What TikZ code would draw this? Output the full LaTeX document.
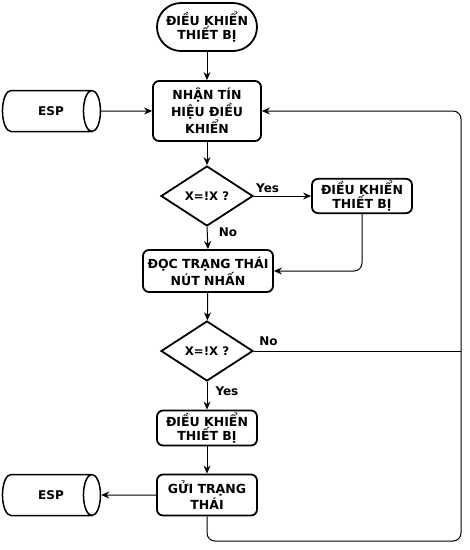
\documentclass[tikz,border=0pt]{standalone}
\usepackage{fontspec}
\setmainfont{DejaVu Sans}
\usetikzlibrary{arrows.meta, shapes.geometric}

\tikzset{
    base/.style={draw=black, line width=1.8pt, font=\bfseries\fontsize{12.5}{14}\selectfont, align=center, inner sep=2pt},
    term/.style={base, rounded corners=24pt, minimum width=100pt, minimum height=48pt},
    proc/.style={base, rounded corners=6pt, minimum width=100pt},
    dec/.style={base, diamond, aspect=1.5, inner sep=1pt, minimum width=92pt, minimum height=60pt, font=\bfseries\fontsize{11.8}{14}\selectfont},
    store/.style={base, line width=1.5pt, cylinder, aspect=1.3, minimum width=41pt, minimum height=98pt, font=\bfseries\fontsize{12}{14}\selectfont},
    line/.style={draw=black, line width=1pt, -{Stealth[length=8pt, width=7pt]}},
    lbl/.style={font=\bfseries\fontsize{12}{14}\selectfont, inner sep=1pt}
}

\begin{document}
\begin{tikzpicture}[x=1pt, y=-1pt]
        \useasboundingbox (0,0) rectangle (470,550);

        % main column
        \node[term] (start) at (207,27) {ĐIỀU KHIỂN\\THIẾT BỊ};
        \node[proc, minimum width=108pt, minimum height=60pt] (recv) at (207,111) {NHẬN TÍN\\HIỆU ĐIỀU\\KHIỂN};
        \node[dec] (dec1) at (207,196) {X=!X ?};
        \node[proc, minimum height=34pt] (ctl1) at (362,196) {ĐIỀU KHIỂN\\THIẾT BỊ};
        \node[proc, minimum width=130pt, minimum height=42pt] (read) at (208,271) {ĐỌC TRẠNG THÁI\\NÚT NHẤN};
        \node[dec] (dec2) at (207,351) {X=!X ?};
        \node[proc, minimum height=35pt] (ctl2) at (207,428) {ĐIỀU KHIỂN\\THIẾT BỊ};
        \node[proc, minimum height=41pt] (send) at (207,495) {GỬI TRẠNG\\THÁI};

        % ESP
        \node[store] (esp1) at (45,111) {\hspace*{12pt}ESP};
        \node[store] (esp2) at (45,495) {\hspace*{12pt}ESP};

        \coordinate (loop) at (461,541);

        \draw[line] (start) -- (recv);
        \draw[line] (esp1.east) -- (recv.west);
        \draw[line] (recv) -- (dec1);
        \draw[line] (dec1.east) -- node[lbl, pos=0.24, above, yshift=2pt] {Yes} (ctl1.west);
        \draw[line] (dec1.south) -- node[lbl, pos=0.25, anchor=west, xshift=10pt] {No} (read.north);
        \draw[line, rounded corners=8pt] (ctl1.south) |- (read.east);
        \draw[line] (read) -- (dec2);
        \draw[line] (dec2.south) -- node[lbl, pos=0.35, anchor=west, xshift=7pt] {Yes} (ctl2.north);
        \draw[line] (ctl2) -- (send);
        \draw[line] (send.west) -- (esp2.east);
        \draw[line, rounded corners=8pt] (send.south) |- (loop) |- (recv.east);
        \draw[draw=black, line width=1pt] (dec2.east) -- node[lbl, pos=0.07, above, yshift=4pt] {No} (dec2.east -| loop);

    \end{tikzpicture}
\end{document}
